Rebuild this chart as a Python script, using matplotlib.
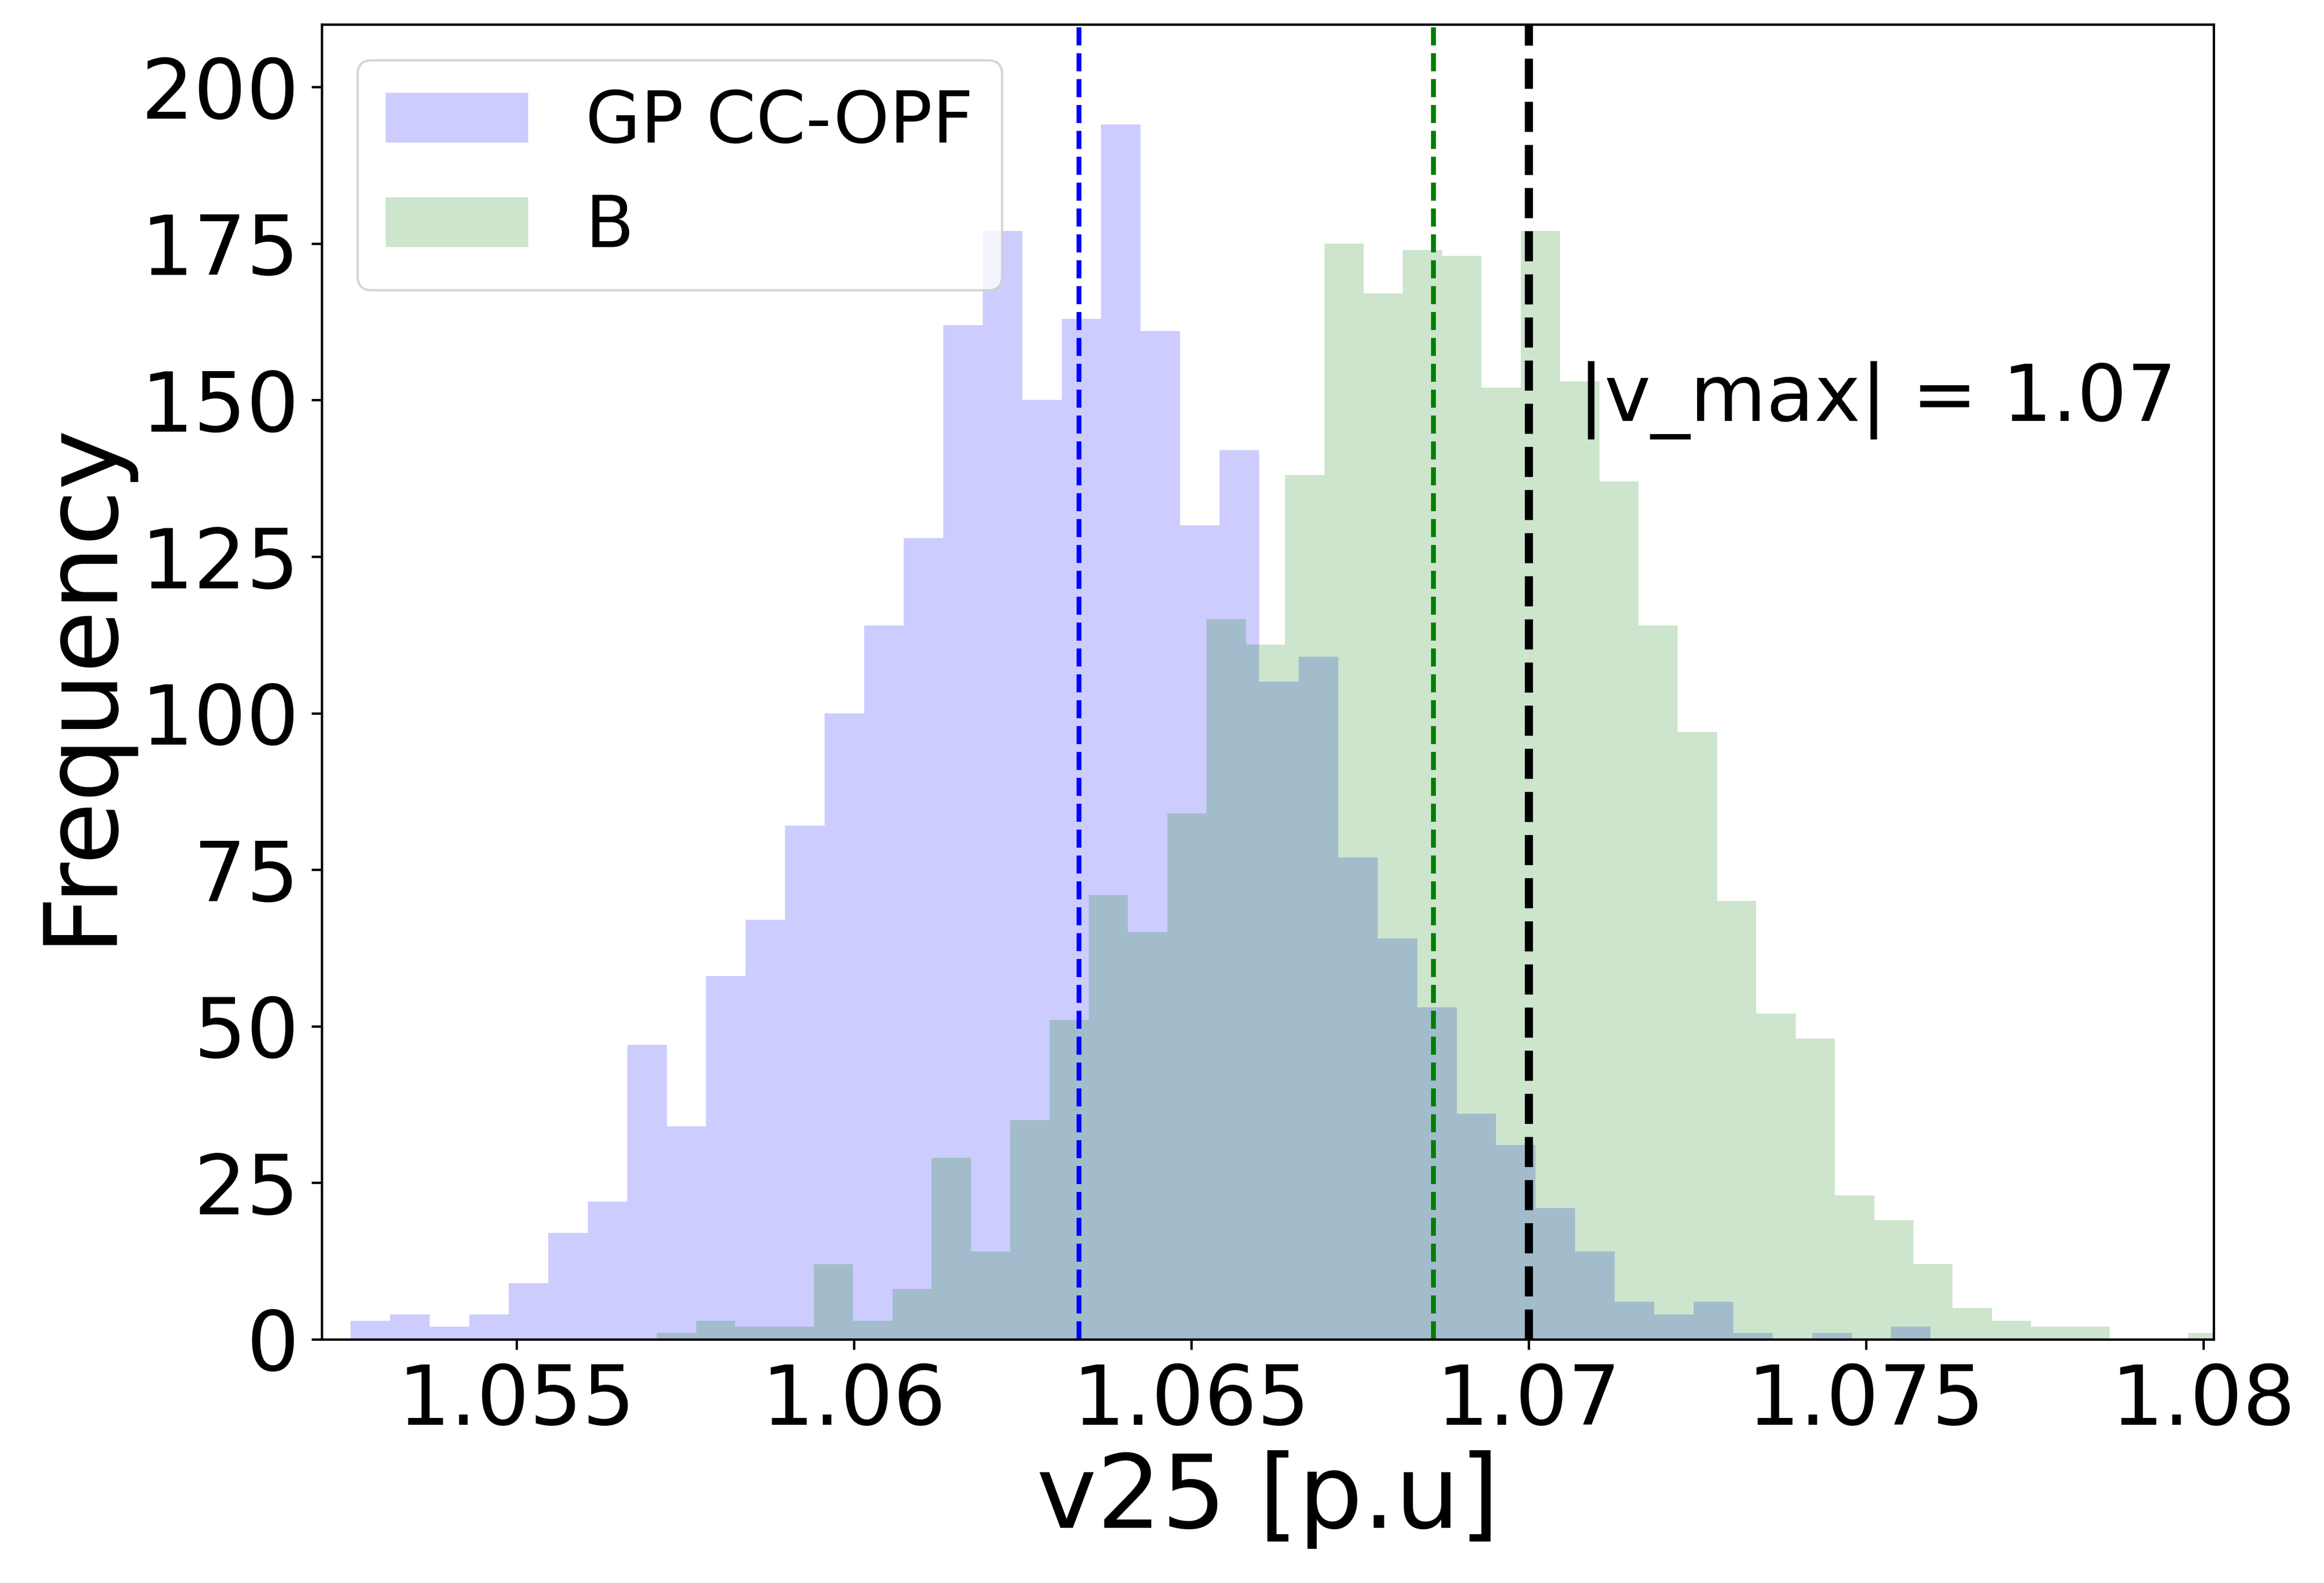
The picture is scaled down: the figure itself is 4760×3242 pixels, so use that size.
import numpy as np
import matplotlib.pyplot as plt

# counts per bin (40 bins per histogram, 2500 samples each)
gp_counts = [3, 4, 2, 4, 9, 17, 22, 47, 34, 58, 67, 82, 100, 114, 128, 162, 177, 150, 163, 194,
             161, 130, 142, 105, 109, 77, 64, 53, 36, 31, 21, 14, 6, 4, 6, 1, 0, 1, 0, 2]
b_counts = [1, 3, 2, 2, 12, 3, 8, 29, 14, 35, 51, 71, 65, 84, 115, 111, 138, 175, 167, 174,
            173, 152, 177, 153, 137, 114, 97, 70, 52, 48, 23, 19, 12, 5, 3, 2, 2, 0, 0, 1]

# range covered by each histogram
gp_range = (1.052543, 1.075959)
b_range = (1.057080, 1.080360)

# mean lines and voltage limit
gp_mean = 1.06334
b_mean = 1.06859
v_max = 1.07

xtick_vals = [1.055, 1.06, 1.065, 1.07, 1.075, 1.08]
xtick_labels = ['1.055', '1.06', '1.065', '1.07', '1.075', '1.08']
ytick_vals = [0, 25, 50, 75, 100, 125, 150, 175, 200]

# bin edges
gp_edges = np.linspace(gp_range[0], gp_range[1], len(gp_counts) + 1)
b_edges = np.linspace(b_range[0], b_range[1], len(b_counts) + 1)
gp_centers = 0.5 * (gp_edges[:-1] + gp_edges[1:])
b_centers = 0.5 * (b_edges[:-1] + b_edges[1:])

fig = plt.figure(figsize=(4760 / 300, 3242 / 300), dpi=300)
ax = fig.add_axes([0.13845, 0.15392, 0.81408, 0.83066])

ax.hist(gp_centers, bins=gp_edges, weights=gp_counts, color='blue', alpha=0.2, label='GP CC-OPF')
ax.hist(b_centers, bins=b_edges, weights=b_counts, color='green', alpha=0.2, label='B')

ax.axvline(gp_mean, color='blue', linestyle='--', linewidth=2.4)
ax.axvline(b_mean, color='green', linestyle='--', linewidth=2.4)
ax.axvline(v_max, color='black', linestyle='--', linewidth=4)
ax.text(1.07073, 150, '|v_max| = 1.07', fontsize=38.5, va='center', ha='left')

ax.set_xlim(1.052114, 1.080154)
ax.set_ylim(0, 210)
ax.set_xticks(xtick_vals)
ax.set_xticklabels(xtick_labels)
ax.set_yticks(ytick_vals)

ax.tick_params(labelsize=40.8, length=5.1, width=1.15, pad=6)
for sp in ax.spines.values():
    sp.set_linewidth(1.15)

ax.set_xlabel('v25 [p.u]', fontsize=50)
ax.set_ylabel('Frequency', fontsize=50, labelpad=6)

leg = ax.legend(loc='upper left', fontsize=35)
leg.get_frame().set_linewidth(1.15)

fig.savefig('out.png', dpi=300)
